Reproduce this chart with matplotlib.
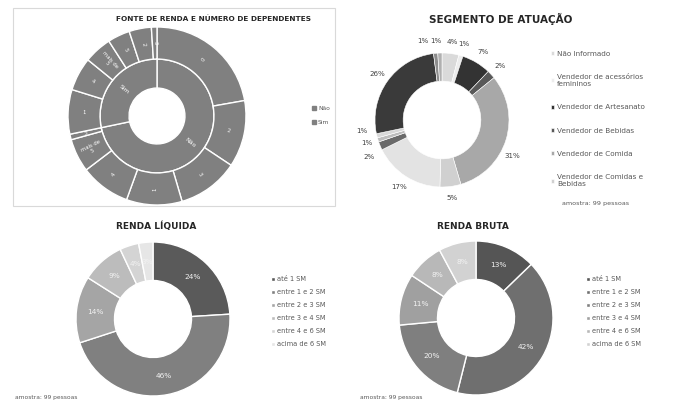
import matplotlib
matplotlib.use('Agg')
import matplotlib.pyplot as plt
from matplotlib.patches import Rectangle
from matplotlib.lines import Line2D

# ---- data ----
fonte_renda = ['Não', 'Sim']
fonte_valores = [71, 28]
dep_nao_labels = ['0', '2', '3', '1', '4', 'mais de\n5', '5']
dep_nao_valores = [22, 12, 11, 10, 9, 6, 1]
dep_sim_labels = ['1', '4', 'mais de\n5', '5', '2', '3']
dep_sim_valores = [8, 6, 5, 4, 4, 1]

segmentos = ['Não Informado', 'Vendedor de acessórios\nfemininos',
             'Vendedor de Artesanato', 'Vendedor de Bebidas',
             'Vendedor de Comida', 'Vendedor de Comidas e\nBebidas',
             'Vendedor de Confecções', 'Vendedor de Doces',
             'Vendedor de Eletrônicos', 'Vendedor de Frutas',
             'Vendedor de Produtos Diversos', 'Vendedor de Brinquedos',
             'Vendedor de Calçados']
seg_valores = [4, 1, 7, 2, 31, 5, 17, 2, 1, 1, 26, 1, 1]
seg_cores = ['#dadada', '#ededed', '#333333', '#595959', '#a8a8a8', '#d0d0d0',
             '#e3e3e3', '#6a6a6a', '#bdbdbd', '#d8d8d8', '#3a3a3a', '#8c8c8c',
             '#b0b0b0']

faixas = ['até 1 SM', 'entre 1 e 2 SM', 'entre 2 e 3 SM',
          'entre 3 e 4 SM', 'entre 4 e 6 SM', 'acima de 6 SM']
liq_valores = [24, 46, 14, 9, 4, 3]
bruta_valores = [13, 42, 20, 11, 8, 8]
liq_cores = ['#5a5a5a', '#808080', '#a5a5a5', '#bcbcbc', '#d4d4d4', '#e6e6e6']
bruta_cores = ['#555555', '#6f6f6f', '#7f7f7f', '#a0a0a0', '#b8b8b8', '#d2d2d2']

W, H = 691, 404


def px_box(cx, cy, r):
    return [(cx - r) / W, 1 - (cy + r) / H, 2 * r / W, 2 * r / H]


def fx(x):
    return x / W


def fy(y):
    return 1 - y / H


def finish(ax):
    ax.set_xlim(-1, 1)
    ax.set_ylim(-1, 1)
    ax.set_aspect('equal')
    ax.axis('off')


fig = plt.figure(figsize=(W / 100, H / 100), dpi=100)
txt = '#595959'

# frame around the sunburst chart
fig.patches.append(Rectangle((fx(13), fy(206)), fx(335) - fx(13), fy(8) - fy(206),
                             transform=fig.transFigure, fill=False,
                             ec='#d9d9d9', lw=0.8))

# ---- sunburst: fonte de renda / dependentes ----
ax1 = fig.add_axes(px_box(157, 116, 89))
wp = dict(edgecolor='white', linewidth=1.0)
_, t_in = ax1.pie(fonte_valores, radius=0.64, labels=fonte_renda, labeldistance=0.745,
                  startangle=90, counterclock=False, colors=['#808080'] * 2,
                  wedgeprops=dict(width=0.326, **wp), rotatelabels=True,
                  textprops=dict(color='white', fontsize=4.5))
_, t_out = ax1.pie(dep_nao_valores + dep_sim_valores, radius=1.0,
                   labels=dep_nao_labels + dep_sim_labels, labeldistance=0.82,
                   startangle=90, counterclock=False, colors=['#808080'] * 13,
                   wedgeprops=dict(width=0.36, **wp), rotatelabels=True,
                   textprops=dict(color='white', fontsize=3.8, linespacing=0.9))
for t in list(t_in) + list(t_out):
    t.set_ha('center')
    t.set_va('center')
finish(ax1)
fig.text(fx(213), fy(19), 'FONTE DE RENDA E NÚMERO DE DEPENDENTES', ha='center',
         va='center', fontsize=5.3, fontweight='bold', color='#262626')
h = [Line2D([], [], ls='', marker='s', ms=2.5, color='#808080') for _ in fonte_renda]
fig.legend(h, fonte_renda, loc='upper left', bbox_to_anchor=(fx(309), fy(103)),
           frameon=False, fontsize=4.3, labelcolor=txt, handlelength=0.6,
           handletextpad=0.4, labelspacing=1.4, borderpad=0)

# ---- segmento de atuação ----
ax2 = fig.add_axes(px_box(442, 120, 67))
wedges, _, autos = ax2.pie(seg_valores, colors=seg_cores, startangle=90,
                           counterclock=False,
                           wedgeprops=dict(width=0.42, edgecolor='white', linewidth=0.4),
                           autopct=lambda p: f'{p:.0f}%', pctdistance=1.18,
                           textprops=dict(fontsize=5.1, color='#404040'))
nudges = {4: (-0.07, -0.18), 7: (0.0, -0.1), 9: (-0.05, 0.12),
          11: (-0.18, 0.0), 12: (-0.06, 0.0)}
for i, (dx, dy) in nudges.items():
    x, y = autos[i].get_position()
    autos[i].set_position((x + dx, y + dy))
finish(ax2)
fig.text(fx(501), fy(19), 'SEGMENTO DE ATUAÇÃO', ha='center', va='center',
         fontsize=7.5, fontweight='bold', color='#262626')
fig.legend(wedges[:6], segmentos[:6], loc='upper left',
           bbox_to_anchor=(fx(547), fy(47)), frameon=False, fontsize=5.2,
           labelcolor=txt, handlelength=0.5, handleheight=0.5,
           handletextpad=0.4, labelspacing=2.4, borderpad=0)
fig.text(fx(562), fy(203), 'amostra: 99 pessoas', ha='left', va='center',
         fontsize=4.6, color=txt)

# ---- renda líquida / bruta ----
for cx, cy, vals, cores, titulo, tx, lx, ax_x in [
        (153, 319, liq_valores, liq_cores, 'RENDA LÍQUIDA', 156, 268, 15),
        (476, 318, bruta_valores, bruta_cores, 'RENDA BRUTA', 473, 583, 360)]:
    ax = fig.add_axes(px_box(cx, cy, 77))
    it = iter(vals)
    ws, _, _ = ax.pie(vals, colors=cores, startangle=90, counterclock=False,
                      wedgeprops=dict(width=0.5, edgecolor='white', linewidth=1.0),
                      autopct=lambda p, it=it: f'{next(it)}%', pctdistance=0.75,
                      textprops=dict(fontsize=5.3, color='#f2f2f2'))
    finish(ax)
    fig.text(fx(tx), fy(226), titulo, ha='center', va='center', fontsize=6.5,
             fontweight='bold', color='#262626')
    fig.legend(ws, faixas, loc='upper left', bbox_to_anchor=(fx(lx), fy(273)),
               frameon=False, fontsize=4.8, labelcolor=txt, handlelength=0.5,
               handleheight=0.5, handletextpad=0.3, labelspacing=1.05, borderpad=0)
    fig.text(fx(ax_x), fy(398), 'amostra: 99 pessoas', ha='left', va='center',
             fontsize=4.3, color=txt)

fig.savefig('out.png', dpi=100, facecolor='white')
